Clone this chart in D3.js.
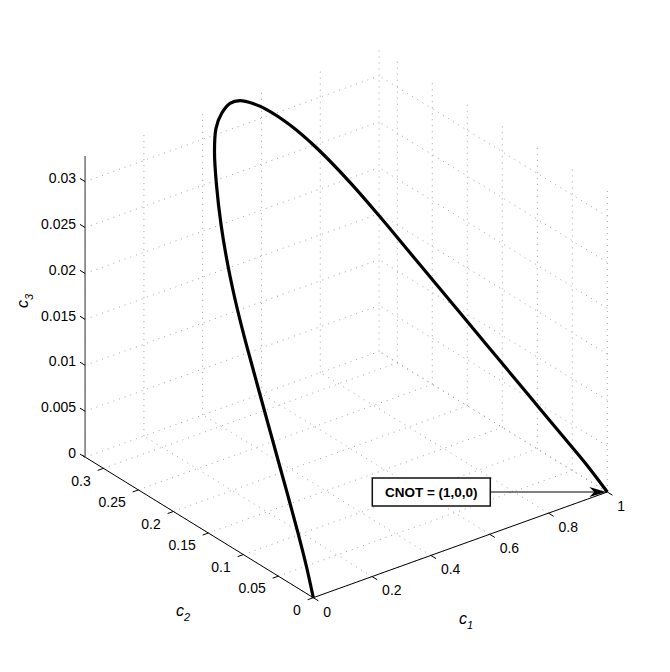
<!DOCTYPE html>
<html lang="en">
<head>
    <meta charset="UTF-8">
    <title>CNOT trajectory</title>
    <script src="https://d3js.org/d3.v7.min.js"></script>
    <style>
        body {
            margin: 0;
            background: #fff;
        }
        svg {
            display: block;
            font-family: "Liberation Sans", Arial, sans-serif;
        }
        .grid line {
            stroke: #999;
            stroke-width: 0.9;
            stroke-dasharray: 1, 5;
        }
        .tick-label {
            font-size: 14px;
            fill: #000;
        }
        .axis-title {
            font-size: 16px;
            font-style: italic;
        }
    </style>
</head>
<body>
    <svg id="chart" width="670" height="672"></svg>

    <script>
        // curve points (c1, c2, c3)
        const c1Vals = [0, 0.0264, 0.05182, 0.07534, 0.09829, 0.12139, 0.14434, 0.16758, 0.19125, 0.21707,
                        0.25087, 0.28776, 0.33383, 0.37743, 0.41641, 0.45499, 0.49361, 0.52615, 0.56001, 0.58956,
                        0.63358, 0.67609, 0.72079, 0.75573, 0.78845, 0.82116, 0.85389, 0.88660, 0.91932, 0.95203,
                        0.97930, 1];
        const c2Vals = [0, 0.0208, 0.04348, 0.06622, 0.08900, 0.11184, 0.13463, 0.15738, 0.18018, 0.20274,
                        0.22837, 0.25257, 0.27850, 0.29967, 0.31389, 0.32195, 0.32632, 0.32570, 0.32092, 0.31419,
                        0.29939, 0.27910, 0.25031, 0.22212, 0.19301, 0.16389, 0.13478, 0.10566, 0.07654, 0.04743,
                        0.02316, 0];
        const c3Vals = [0, 0.00209, 0.00437, 0.00666, 0.00895, 0.01125, 0.01354, 0.01583, 0.01813, 0.02040,
                        0.02297, 0.02541, 0.02802, 0.03015, 0.03158, 0.03239, 0.03283, 0.03277, 0.03228, 0.03161,
                        0.03012, 0.02808, 0.02518, 0.02235, 0.01942, 0.01649, 0.01356, 0.01063, 0.00770, 0.00477,
                        0.00233, 0];

        // axis limits and ticks
        const c1Lim = [0, 1];
        const c2Lim = [0, 0.326];
        const c3Lim = [0, 0.0328];
        const c1Ticks = [0, 0.2, 0.4, 0.6, 0.8, 1];
        const c1TickLabels = ["0", "0.2", "0.4", "0.6", "0.8", "1"];
        const c2Ticks = [0, 0.05, 0.1, 0.15, 0.2, 0.25, 0.3];
        const c2TickLabels = ["0", "0.05", "0.1", "0.15", "0.2", "0.25", "0.3"];
        const c3Ticks = [0, 0.005, 0.01, 0.015, 0.02, 0.025, 0.03];
        const c3TickLabels = ["0", "0.005", "0.01", "0.015", "0.02", "0.025", "0.03"];

        // annotation
        const cnotPoint = [1, 0, 0];
        const cnotText = "CNOT = (1,0,0)";

        const svg = d3.select("#chart");

        // view: origin on screen and the screen vector of each full axis range
        const origin = [313.3, 597.7];
        const v1 = [294, -105.7];
        const v2 = [-228.2, -140.5];
        const v3 = [0, -301.3];

        const s1 = d3.scaleLinear().domain(c1Lim).range([0, 1]);
        const s2 = d3.scaleLinear().domain(c2Lim).range([0, 1]);
        const s3 = d3.scaleLinear().domain(c3Lim).range([0, 1]);

        function project(p) {
            const a = s1(p[0]), b = s2(p[1]), c = s3(p[2]);
            return [origin[0] + a * v1[0] + b * v2[0] + c * v3[0],
                    origin[1] + a * v1[1] + b * v2[1] + c * v3[1]];
        }

        function unit(v) {
            const l = Math.hypot(v[0], v[1]);
            return [v[0] / l, v[1] / l];
        }

        function seg(g, p, q) {
            const A = project(p), B = project(q);
            g.append("line")
             .attr("x1", A[0]).attr("y1", A[1])
             .attr("x2", B[0]).attr("y2", B[1]);
        }

        // grid: floor, back wall c2 = max, side wall c1 = 1
        const grid = svg.append("g").attr("class", "grid");
        c1Ticks.forEach(t => {
            seg(grid, [t, c2Lim[0], c3Lim[0]], [t, c2Lim[1], c3Lim[0]]);
            seg(grid, [t, c2Lim[1], c3Lim[0]], [t, c2Lim[1], c3Lim[1]]);
        });
        c2Ticks.forEach(t => {
            seg(grid, [c1Lim[0], t, c3Lim[0]], [c1Lim[1], t, c3Lim[0]]);
            seg(grid, [c1Lim[1], t, c3Lim[0]], [c1Lim[1], t, c3Lim[1]]);
        });
        c3Ticks.forEach(t => {
            seg(grid, [c1Lim[0], c2Lim[1], t], [c1Lim[1], c2Lim[1], t]);
            seg(grid, [c1Lim[1], c2Lim[0], t], [c1Lim[1], c2Lim[1], t]);
        });

        // axis lines
        const axes = svg.append("g");
        const c1Axis = [project([c1Lim[0], 0, 0]), project([c1Lim[1], 0, 0])];
        const c2Axis = [project([0, c2Lim[0], 0]), project([0, c2Lim[1], 0])];
        const c3Axis = [project([0, c2Lim[1], c3Lim[0]]), project([0, c2Lim[1], c3Lim[1]])];
        axes.append("line")
            .attr("x1", c1Axis[0][0]).attr("y1", c1Axis[0][1])
            .attr("x2", c1Axis[1][0]).attr("y2", c1Axis[1][1])
            .attr("stroke", "#000").attr("stroke-width", 1);
        axes.append("line")
            .attr("x1", c2Axis[0][0]).attr("y1", c2Axis[0][1])
            .attr("x2", c2Axis[1][0] - 3).attr("y2", c2Axis[1][1] - 2)
            .attr("stroke", "#000").attr("stroke-width", 1);
        axes.append("line")
            .attr("x1", c3Axis[0][0]).attr("y1", c3Axis[0][1])
            .attr("x2", c3Axis[1][0]).attr("y2", c3Axis[1][1])
            .attr("stroke", "#8a8a8a").attr("stroke-width", 1.8);

        // ticks and tick labels
        const tickLen = 6;
        const d1 = unit([-v2[0], -v2[1]]);   // c1 ticks point away from c2
        const d2 = unit([-v1[0], -v1[1]]);   // c2 ticks point away from c1
        const d3v = unit(v2);                // c3 ticks point along c2

        c1Ticks.forEach((t, i) => {
            const p = project([t, 0, 0]);
            axes.append("line")
                .attr("x1", p[0]).attr("y1", p[1])
                .attr("x2", p[0] + d1[0] * tickLen).attr("y2", p[1] + d1[1] * tickLen)
                .attr("stroke", "#000");
            axes.append("text")
                .attr("class", "tick-label")
                .attr("x", p[0] + 10).attr("y", p[1] + 14)
                .attr("dy", "0.35em")
                .attr("text-anchor", "start")
                .text(c1TickLabels[i]);
        });

        c2Ticks.forEach((t, i) => {
            const p = project([0, t, 0]);
            axes.append("line")
                .attr("x1", p[0]).attr("y1", p[1])
                .attr("x2", p[0] + d2[0] * tickLen).attr("y2", p[1] + d2[1] * tickLen)
                .attr("stroke", "#000");
            axes.append("text")
                .attr("class", "tick-label")
                .attr("x", p[0] - 12.5).attr("y", p[1] + 12.4)
                .attr("dy", "0.35em")
                .attr("text-anchor", "end")
                .text(c2TickLabels[i]);
        });

        c3Ticks.forEach((t, i) => {
            const p = project([0, c2Lim[1], t]);
            axes.append("line")
                .attr("x1", p[0]).attr("y1", p[1])
                .attr("x2", p[0] + d3v[0] * tickLen).attr("y2", p[1] + d3v[1] * tickLen)
                .attr("stroke", "#000");
            axes.append("text")
                .attr("class", "tick-label")
                .attr("x", p[0] - 9).attr("y", p[1] - 3.8)
                .attr("dy", "0.35em")
                .attr("text-anchor", "end")
                .text(c3TickLabels[i]);
        });

        // axis titles
        function axisTitle(x, y, sub, rotate) {
            const t = svg.append("text")
                .attr("class", "axis-title")
                .attr("transform", `translate(${x},${y})` + (rotate ? " rotate(-90)" : ""));
            t.append("tspan").text("c");
            t.append("tspan").attr("font-size", "11px").attr("dy", 5).text(sub);
        }
        axisTitle(176, 616, "2", false);
        axisTitle(459, 624, "1", false);
        axisTitle(27.5, 308, "3", true);

        // the trajectory
        const pts = c1Vals.map((c1, i) => project([c1, c2Vals[i], c3Vals[i]]));
        svg.append("path")
           .datum(pts)
           .attr("fill", "none")
           .attr("stroke", "#000")
           .attr("stroke-width", 3.2)
           .attr("stroke-linejoin", "round")
           .attr("d", d3.line().curve(d3.curveCatmullRom.alpha(0.5)));

        // annotation box with arrow
        const tip = project(cnotPoint);
        const boxW = 118, boxH = 28;
        const boxX = tip[0] - 235, boxY = tip[1] - 14;
        const ann = svg.append("g");
        ann.append("line")
           .attr("x1", boxX + boxW).attr("y1", tip[1])
           .attr("x2", tip[0] - 8).attr("y2", tip[1])
           .attr("stroke", "#000").attr("stroke-width", 1);
        ann.append("path")
           .attr("d", `M${tip[0] - 1},${tip[1]} L${tip[0] - 18},${tip[1] - 5} L${tip[0] - 13},${tip[1]} L${tip[0] - 18},${tip[1] + 5} Z`)
           .attr("fill", "#000");
        ann.append("rect")
           .attr("x", boxX).attr("y", boxY)
           .attr("width", boxW).attr("height", boxH)
           .attr("fill", "#fff")
           .attr("stroke", "#111").attr("stroke-width", 1.5);
        ann.append("text")
           .attr("x", boxX + boxW / 2).attr("y", boxY + boxH / 2)
           .attr("dy", "0.36em")
           .attr("text-anchor", "middle")
           .attr("font-size", "13.5px")
           .attr("font-weight", "bold")
           .text(cnotText);
    </script>
</body>
</html>
